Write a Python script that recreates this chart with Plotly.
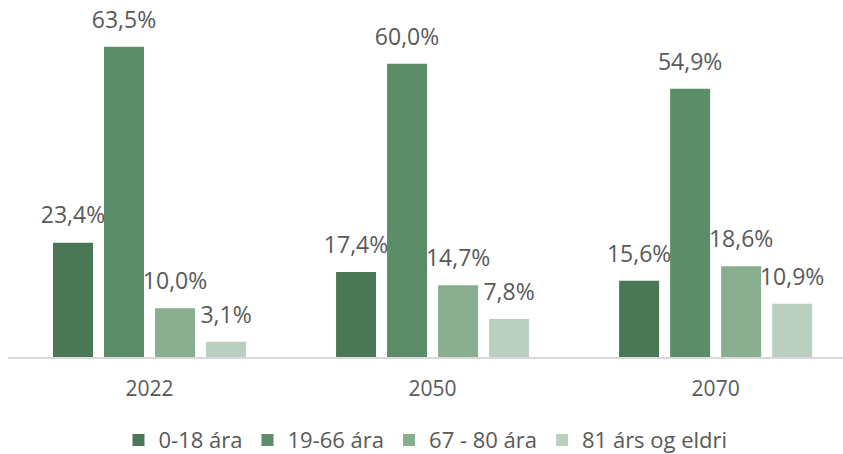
import plotly.graph_objects as go

years = ["2022", "2050", "2070"]
series_names = ["0-18 ára", "19-66 ára", "67 - 80 ára", "81 árs og eldri"]
values = [
    [23.4, 17.4, 15.6],
    [63.5, 60.0, 54.9],
    [10.0, 14.7, 18.6],
    [3.1, 7.8, 10.9],
]
colors = ["#4A7856", "#5B8D69", "#89AD8F", "#BBCFC0"]

fig = go.Figure()
for i, (name, vals, col) in enumerate(zip(series_names, values, colors)):
    fig.add_trace(go.Bar(
        x=years, y=vals, name=name, offsetgroup=str(i),
        marker=dict(color=col, line=dict(width=0)),
        hoverinfo="skip",
    ))
for i, vals in enumerate(values):
    fig.add_trace(go.Scatter(
        x=years, y=vals, offsetgroup=str(i), mode="markers+text",
        marker=dict(size=20, opacity=0, color="white"),
        text=[f"{v:.1f}%".replace(".", ",") for v in vals],
        textposition="top center",
        textfont=dict(size=23, color="#595959", family="Open Sans"),
        cliponaxis=False, showlegend=False, hoverinfo="skip",
    ))

fig.update_layout(
    width=843, height=454,
    margin=dict(l=8, r=0, t=15, b=97, autoexpand=False),
    paper_bgcolor="white", plot_bgcolor="white",
    separators=",.",
    barmode="group", bargap=0.279, bargroupgap=0.216,
    scattermode="group", scattergap=0.279,
    font=dict(family="Open Sans", color="#595959"),
    showlegend=True,
    legend=dict(orientation="h", x=0.5, xanchor="center", y=-0.243, yanchor="middle",
                font=dict(size=22, color="#595959"), traceorder="normal",
                itemwidth=30),
    xaxis=dict(range=[-0.5, 2.45], showline=True, linecolor="#D9D9D9", linewidth=2,
               showgrid=False, tickfont=dict(size=21, color="#595959"),
               ticks="outside", ticklen=12, tickcolor="rgba(0,0,0,0)"),
    yaxis=dict(range=[0, 70], visible=False, showgrid=False),
)

fig.write_html("out.html", config={"displayModeBar": False},
               post_script="document.body.style.margin='0';")
